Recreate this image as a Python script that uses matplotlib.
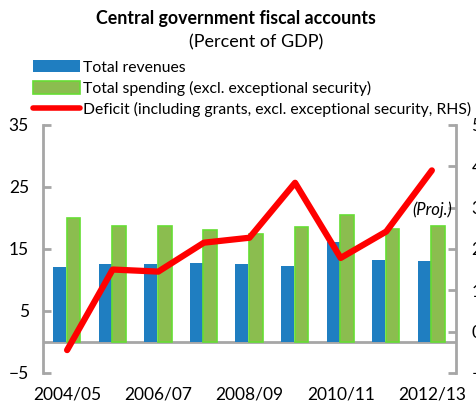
import matplotlib
matplotlib.use("Agg")
import matplotlib.pyplot as plt
from matplotlib.patches import Patch
from matplotlib.lines import Line2D
import numpy as np

plt.rcParams['font.family'] = ['Lato', 'DejaVu Sans']

# data
years = ["2004/05", "2005/06", "2006/07", "2007/08", "2008/09",
         "2009/10", "2010/11", "2011/12", "2012/13"]
revenues = [12.0, 12.5, 12.5, 12.8, 12.5, 12.2, 16.1, 13.2, 13.0]
spending = [20.0, 18.7, 18.7, 18.0, 17.4, 18.5, 20.5, 18.2, 18.7]
deficit = [-0.45, 1.5, 1.45, 2.15, 2.27, 3.6, 1.78, 2.42, 3.9]
tick_years = ["2004/05", "2006/07", "2008/09", "2010/11", "2012/13"]

blue = "#1F7EC1"
green = "#8BBD4F"
green_edge = "#66DD33"
grey = "#A6A6A6"

fig = plt.figure(figsize=(4.77, 4.07), dpi=100)
ax = fig.add_axes([0.090, 0.084, 0.866, 0.609])
ax2 = ax.twinx()

x = np.arange(len(years))
ax.bar(x - 0.165, revenues, width=0.285, color=blue, zorder=2)
ax.bar(x + 0.14, spending, width=0.30, color=green, edgecolor=green_edge,
       linewidth=1.2, zorder=2)
ax.axhline(0, color=grey, lw=2, zorder=1)

ax2.plot(x, deficit, color="red", lw=4.5, solid_capstyle="round", zorder=3)
ax2.text(8.0, 2.95, "(Proj.)", style="italic", fontsize=12, ha="center",
         va="center")

ax.set_xlim(-0.53, 8.53)
ax.set_ylim(-5, 35)
ax.set_yticks([-5, 5, 15, 25, 35])
ax2.set_ylim(-1, 5)
ax2.set_yticks(range(-1, 6))
ax.set_xticks([0, 2, 4, 6, 8])
ax.set_xticklabels(tick_years)

for a in (ax, ax2):
    for s in a.spines.values():
        s.set_visible(False)
ax.spines['left'].set_visible(True)
ax.spines['left'].set_color(grey)
ax.spines['left'].set_linewidth(2)
ax2.spines['right'].set_visible(True)
ax2.spines['right'].set_color(grey)
ax2.spines['right'].set_linewidth(2)

ax.tick_params(axis='y', direction='in', length=6, width=2, color=grey,
               labelsize=12.5, pad=10)
ax2.tick_params(axis='y', direction='in', length=6, width=2, color=grey,
                labelsize=12.5, pad=11)
ax.tick_params(axis='x', length=0, labelsize=12.5, pad=10)
ax.set_zorder(ax2.get_zorder() - 1)
ax.patch.set_visible(False)

fig.text(0.495, 0.955, "Central government fiscal accounts", fontsize=12.8,
         fontweight="bold", ha="center", va="center")
fig.text(0.537, 0.895, "(Percent of GDP)", fontsize=13, ha="center",
         va="center")

handles = [Patch(facecolor=blue),
           Patch(facecolor=green, edgecolor=green_edge, linewidth=1.2),
           Line2D([0], [0], color="red", lw=4, solid_capstyle="round")]
labels = ["Total revenues",
          "Total spending (excl. exceptional security)",
          "Deficit (including grants, excl. exceptional security, RHS)"]
fig.legend(handles, labels, loc="upper left", bbox_to_anchor=(0.07, 0.853),
           frameon=False, fontsize=11.35, handlelength=2.95, handleheight=0.85,
           handletextpad=0.2, labelspacing=0.4, borderpad=0, borderaxespad=0)

fig.savefig("out.png", dpi=100)
